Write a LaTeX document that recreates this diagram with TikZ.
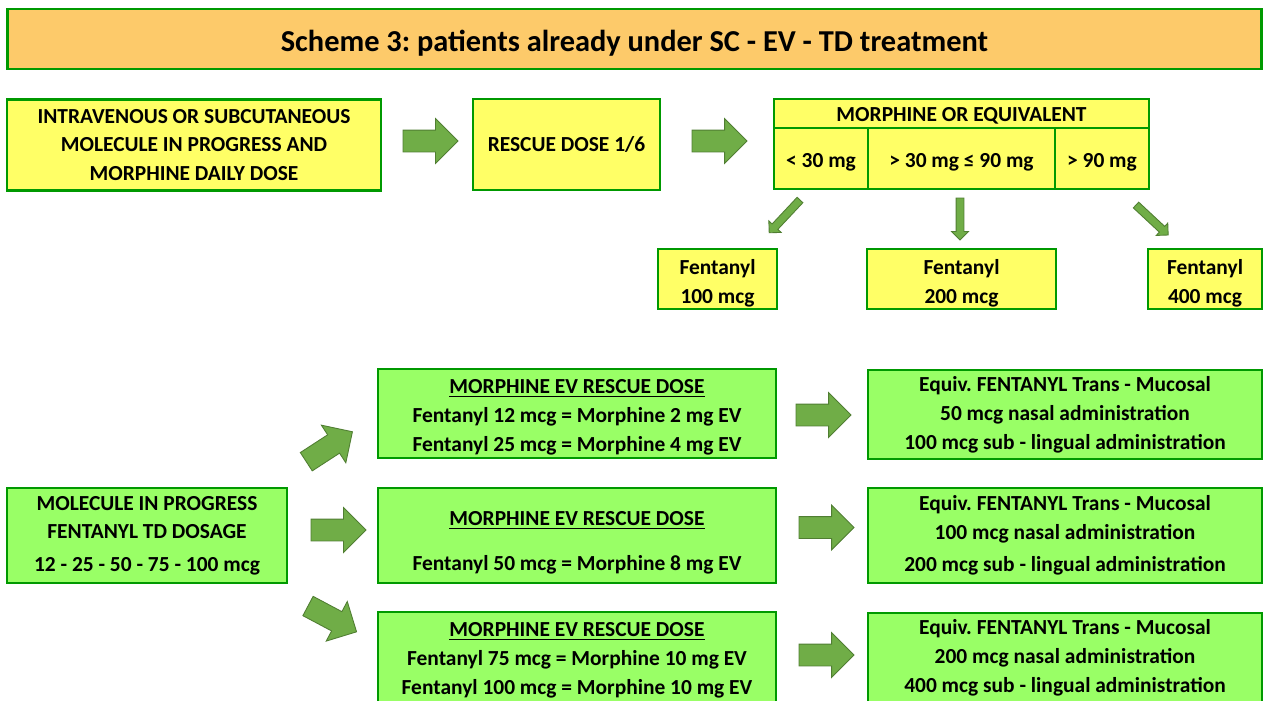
\documentclass[tikz,border=0pt]{standalone}
\usepackage{fontspec}
\setmainfont{Carlito}
\usetikzlibrary{shapes,arrows,positioning,calc}

\definecolor{titlefill}{HTML}{FDCA6A}
\definecolor{boxedge}{HTML}{009900}
\definecolor{yellowfill}{HTML}{FFFF66}
\definecolor{greenfill}{HTML}{99FF66}
\definecolor{arrowfill}{HTML}{70AD47}
\definecolor{arrowedge}{HTML}{507E32}

\frenchspacing

\begin{document}
\begin{tikzpicture}[
    x=0.02cm, y=-0.02cm,
    % Define styles for the boxes and the block arrows
    box/.style={
        rectangle,
        draw=boxedge,
        line width=1.6pt,
        align=center,
        inner sep=0pt,
        outer sep=0pt,
        font=\bfseries\fontsize{12.2}{16.4}\selectfont
    },
    yellow_box/.style={box, fill=yellowfill},
    green_box/.style={box, fill=greenfill},
    fat_arrow/.style={
        single arrow,
        draw=arrowedge,
        fill=arrowfill,
        line width=0.5pt,
        inner xsep=0pt,
        inner ysep=0.21cm,
        outer sep=0pt,
        single arrow head extend=0.23cm,
        minimum height=1.1cm,
        anchor=tail
    },
    thin_arrow/.style={
        fat_arrow,
        inner ysep=0.07cm,
        single arrow head extend=0.09cm,
        minimum height=0.88cm
    }
]
\useasboundingbox (0,0) rectangle (1264,700);

% Title
\node[box, fill=titlefill, minimum width=25.1cm, minimum height=1.2cm,
      text height=14.4pt, text depth=0pt,
      font=\bfseries\fontsize{17.3}{20}\selectfont] (title) at (634.5,39)
      {Scheme 3: patients already under SC - EV - TD treatment};

% Upper row
\node[yellow_box, minimum width=7.48cm, minimum height=1.82cm] (ivsc) at (194,145)
      {INTRAVENOUS OR SUBCUTANEOUS\\MOLECULE IN PROGRESS AND\\MORPHINE DAILY DOSE};
\node[yellow_box, minimum width=3.74cm, minimum height=1.82cm] (rescue) at (566.5,144.5)
      {RESCUE DOSE 1/6};

% Morphine table
\node[yellow_box, minimum width=7.5cm, minimum height=0.58cm,
      text height=9.5pt, text depth=0pt] (equiv) at (961.5,113.5)
      {MORPHINE OR EQUIVALENT};
\node[yellow_box, minimum width=1.88cm, minimum height=1.22cm, anchor=north west,
      text height=10.6pt, text depth=0pt] (low) at (equiv.south west) {< 30 mg};
\node[yellow_box, minimum width=3.74cm, minimum height=1.22cm, right=0pt of low,
      text height=10.6pt, text depth=0pt] (mid) {> 30 mg ≤ 90 mg};
\node[yellow_box, minimum width=1.88cm, minimum height=1.22cm, right=0pt of mid,
      text height=10.6pt, text depth=0pt] (high) {> 90 mg};

% Fentanyl doses
\node[yellow_box, minimum width=2.38cm, minimum height=1.2cm] (fen100) at (717.5,279)
      {\rule{0pt}{13.8pt}Fentanyl\\100 mcg};
\node[yellow_box, minimum width=3.78cm, minimum height=1.2cm] (fen200) at (961.5,279)
      {\rule{0pt}{13pt}Fentanyl\\200 mcg};
\node[yellow_box, minimum width=2.28cm, minimum height=1.2cm] (fen400) at (1205,279)
      {\rule{0pt}{13.8pt}Fentanyl\\400 mcg};

% Lower part
\node[green_box, minimum width=5.6cm, minimum height=1.9cm] (molecule) at (147,535.5)
      {MOLECULE IN PROGRESS\\FENTANYL TD DOSAGE\\[2pt]12 - 25 - 50 - 75 - 100 mcg};

\node[green_box, minimum width=7.96cm, minimum height=1.78cm] (ev1) at (577,413.5)
      {\rule{0pt}{12pt}\underline{MORPHINE EV RESCUE DOSE}\\Fentanyl 12 mcg = Morphine 2 mg EV\\Fentanyl 25 mcg = Morphine 4 mg EV};
\node[green_box, minimum width=7.96cm, minimum height=1.9cm] (ev2) at (577,535.5)
      {\rule{0pt}{16pt}\underline{MORPHINE EV RESCUE DOSE}\\[9pt]Fentanyl 50 mcg = Morphine 8 mg EV};
\node[green_box, minimum width=7.96cm, minimum height=1.8cm] (ev3) at (577,657)
      {\rule{0pt}{12pt}\underline{MORPHINE EV RESCUE DOSE}\\Fentanyl 75 mcg = Morphine 10 mg EV\\Fentanyl 100 mcg = Morphine 10 mg EV};

\node[green_box, minimum width=7.88cm, minimum height=1.78cm] (tm1) at (1065,414.5)
      {Equiv. FENTANYL Trans - Mucosal\\50 mcg nasal administration\\100 mcg sub - lingual administration};
\node[green_box, minimum width=7.88cm, minimum height=1.9cm] (tm2) at (1065,535.5)
      {Equiv. FENTANYL Trans - Mucosal\\100 mcg nasal administration\\[2pt]200 mcg sub - lingual administration};
\node[green_box, minimum width=7.88cm, minimum height=1.8cm] (tm3) at (1065,658)
      {Equiv. FENTANYL Trans - Mucosal\\200 mcg nasal administration\\400 mcg sub - lingual administration};

% Block arrows
\node[fat_arrow] (ivsc2rescue) at (403,141) {};
\node[fat_arrow] (rescue2equiv) at (692,141) {};
\node[thin_arrow, rotate=226.8, minimum height=0.9cm] (low2fen) at (800,200) {};
\node[thin_arrow, rotate=-90, minimum height=0.84cm] (mid2fen) at (960,198) {};
\node[thin_arrow, rotate=-43] (high2fen) at (1136,205) {};

\node[fat_arrow, rotate=33] (mol2ev1) at (306.3,461.7) {};
\node[fat_arrow] (mol2ev2) at (311,530) {};
\node[fat_arrow, rotate=-28] (mol2ev3) at (308,606) {};

\node[fat_arrow] (ev2tm1) at (796,415) {};
\node[fat_arrow] (ev2tm2) at (799,527.5) {};
\node[fat_arrow] (ev2tm3) at (799,655) {};

\end{tikzpicture}
\end{document}
